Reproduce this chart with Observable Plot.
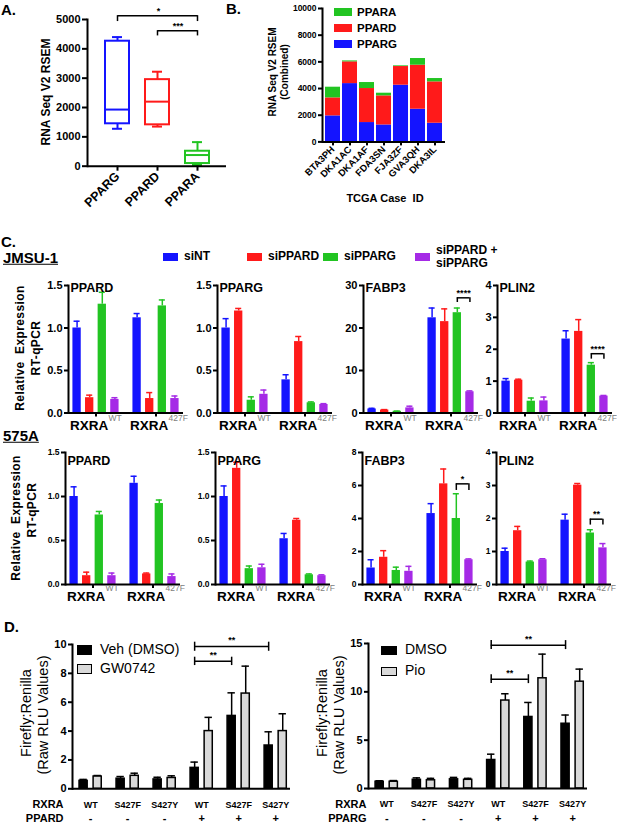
<!DOCTYPE html>
<html>
<head>
<meta charset="utf-8">
<script src="https://cdn.jsdelivr.net/npm/d3@7"></script>
<script src="https://cdn.jsdelivr.net/npm/@observablehq/plot@0.6"></script>
<style>
html,body{margin:0;padding:0;background:#fff;}
#root{position:relative;width:617px;height:825px;overflow:hidden;font-family:"Liberation Sans",Arial,sans-serif;color:#000;}
.t{position:absolute;white-space:pre;line-height:1.1;transform-origin:0 0;}
.sq{position:absolute;box-sizing:border-box;}
#root svg{position:absolute;overflow:visible;}
</style>
</head>
<body>
<div id="root"></div>
<script>
// ================= DATA =================
// Panel A (box summaries)
const genesA = ["PPARG", "PPARD", "PPARA"];
const boxMin = [1275, 1350, 40];
const boxQ1  = [1445, 1410, 90];
const boxMed = [1930, 2200, 380];
const boxQ3  = [4260, 2950, 510];
const boxMax = [4400, 3220, 820];
const sigA = [
  {a: "PPARG", b: "PPARA", y: 5130, drop: 4930, label: "*"},
  {a: "PPARD", b: "PPARA", y: 4620, drop: 4440, label: "***"}
];
// Panel B (stacked)
const cases  = ["BTA3PH", "DKA1AC", "DKA1AF", "FDA3SN", "FJA3ZF", "GVA3QH", "DKA3IL"];
const bPPARG = [1950, 4370, 1450, 1270, 4250, 2450, 1400];
const bPPARD = [1350, 1630, 2550, 2180, 1400, 3300, 3100];
const bPPARA = [800, 70, 450, 200, 50, 500, 250];
const bGenes = ["PPARG", "PPARD", "PPARA"];
const geneColors = ["#1414ff", "#ff1a1a", "#22c422"];
// Panel C
const siSeries = ["siNT", "siPPARD", "siPPARG", "siPPARD +\nsiPPARG"];
const siColors = ["#1414ff", "#ff1a1a", "#22c422", "#a52ae6"];
const rxraGroups = ["WT", "427F"];
const jmsuPPARD = [1.00, 0.18, 1.28, 0.16, 1.12, 0.17, 1.26, 0.17];
const jmsuPPARDerr = [0.08, 0.03, 0.14, 0.02, 0.05, 0.07, 0.07, 0.03];
const jmsuPPARG = [1.00, 1.20, 0.15, 0.22, 0.39, 0.84, 0.12, 0.10];
const jmsuPPARGerr = [0.11, 0.03, 0.04, 0.05, 0.06, 0.06, 0.01, 0.01];
const jmsuFABP3 = [0.95, 0.7, 0.4, 1.2, 22.4, 21.5, 23.6, 5.0];
const jmsuFABP3err = [0.15, 0.1, 0.05, 0.4, 2.3, 3.0, 1.1, 0.2];
const jmsuPLIN2 = [1.0, 1.03, 0.37, 0.38, 2.32, 2.56, 1.5, 0.53];
const jmsuPLIN2err = [0.08, 0.03, 0.1, 0.12, 0.26, 0.37, 0.08, 0.02];
const a575PPARD = [1.00, 0.10, 0.79, 0.10, 1.15, 0.12, 0.92, 0.09];
const a575PPARDerr = [0.11, 0.04, 0.04, 0.03, 0.08, 0.01, 0.04, 0.03];
const a575PPARG = [1.00, 1.32, 0.18, 0.19, 0.52, 0.73, 0.11, 0.10];
const a575PPARGerr = [0.12, 0.07, 0.03, 0.04, 0.06, 0.02, 0.01, 0.01];
const a575FABP3 = [1.0, 1.65, 0.85, 0.8, 4.3, 6.1, 4.0, 1.5];
const a575FABP3err = [0.5, 0.4, 0.2, 0.3, 0.6, 0.9, 1.5, 0.05];
const a575PLIN2 = [1.0, 1.63, 0.68, 0.75, 1.95, 3.01, 1.56, 1.11];
const a575PLIN2err = [0.1, 0.13, 0.03, 0.03, 0.18, 0.05, 0.1, 0.13];
const sigC = {
  jmsuFABP3: {g: "427F", a: 2, b: 3, y: 27.1, drop: 26.0, label: "****"},
  jmsuPLIN2: {g: "427F", a: 2, b: 3, y: 1.86, drop: 1.69, label: "****"},
  a575FABP3: {g: "427F", a: 2, b: 3, y: 6.1, drop: 5.7, label: "*"},
  a575PLIN2: {g: "427F", a: 2, b: 3, y: 1.98, drop: 1.80, label: "**"}
};
// Panel D
const dRxra = ["WT", "S427F", "S427Y", "WT", "S427F", "S427Y"];
const dPpar = ["-", "-", "-", "+", "+", "+"];
const dVeh = [0.55, 0.70, 0.65, 1.45, 5.05, 3.0];
const dVehErr = [0.10, 0.15, 0.15, 0.40, 1.60, 0.95];
const dGW = [0.85, 0.90, 0.75, 4.0, 6.6, 4.0];
const dGWErr = [0.07, 0.18, 0.15, 0.95, 1.9, 1.2];
const dDMSO = [0.70, 0.90, 0.95, 2.95, 7.4, 6.7];
const dDMSOErr = [0.10, 0.20, 0.20, 0.60, 1.5, 0.9];
const dPio = [0.70, 0.85, 0.90, 9.1, 11.4, 11.05];
const dPioErr = [0.12, 0.20, 0.15, 0.70, 2.5, 1.3];
const sigDL = [{a: 3, b: 5, y: 9.86, lo: 9.53, hi: 10.16, label: "**"}, {a: 3, b: 4, y: 8.84, lo: 8.54, hi: 9.12, label: "**"}];
const sigDR = [{a: 3, b: 5, y: 14.83, lo: 14.37, hi: 15.3, label: "**"}, {a: 3, b: 4, y: 11.31, lo: 10.85, hi: 11.77, label: "**"}];

// ================= HELPERS =================
const FONT = '"Liberation Sans", Arial, sans-serif';
const root = document.getElementById("root");
function addPlot(frame, m, opts) {
  const svg = Plot.plot({
    width: frame.x1 - frame.x0 + m.l + m.r,
    height: frame.y1 - frame.y0 + m.t + m.b,
    marginLeft: m.l, marginRight: m.r, marginTop: m.t, marginBottom: m.b,
    color: {type: "identity"},
    style: {fontFamily: FONT, fontSize: "11px", fontWeight: "bold", overflow: "visible", background: "none", color: "#000"},
    ...opts
  });
  svg.style.left = (frame.x0 - m.l) + "px";
  svg.style.top = (frame.y0 - m.t) + "px";
  root.appendChild(svg);
  return svg;
}
function T(s, x, y, o = {}) {
  const d = document.createElement("div");
  d.className = "t"; d.textContent = s;
  d.style.fontSize = (o.size ?? 12) + "px";
  d.style.fontWeight = o.weight ?? "bold";
  if (o.underline) d.style.textDecoration = "underline";
  if (o.color) d.style.color = o.color;
  if (o.align) d.style.textAlign = o.align;
  if (o.spacing) d.style.letterSpacing = o.spacing + "px";
  d.style.left = x + "px"; d.style.top = y + "px";
  const ax = o.anchor === "middle" ? "-50%" : o.anchor === "end" ? "-100%" : "0";
  d.style.transform = `rotate(${o.rotate ?? 0}deg) translate(${ax}, -50%)`;
  root.appendChild(d);
}
function SQ(x, y, w, h, fill, border) {
  const d = document.createElement("div");
  d.className = "sq";
  Object.assign(d.style, {left: x + "px", top: y + "px", width: w + "px", height: h + "px", background: fill});
  if (border) d.style.border = border;
  root.appendChild(d);
}

// ================= PANEL A =================
{
  const data = genesA.map((g, i) => ({g, min: boxMin[i], q1: boxQ1[i], med: boxMed[i], q3: boxQ3[i], max: boxMax[i], c: geneColors[i]}));
  const W = 139, pad = 0.4, step = W / (genesA.length + pad);
  const sigMarks = [];
  sigA.forEach(s => {
    const off = (genesA.indexOf(s.b) - genesA.indexOf(s.a)) / 2 * step;
    sigMarks.push(
      Plot.link([s], {x1: "a", x2: "b", y1: "y", y2: "y", strokeWidth: 1.5}),
      Plot.ruleX([s], {x: "a", y1: "drop", y2: "y", strokeWidth: 1.5}),
      Plot.ruleX([s], {x: "b", y1: "drop", y2: "y", strokeWidth: 1.5}),
      Plot.text([s], {x: "a", y: "y", text: "label", dx: off, dy: -2, lineAnchor: "bottom", fontSize: 9})
    );
  });
  addPlot({x0: 87, x1: 87 + W, y0: 19, y1: 165.7}, {l: 45, r: 5, t: 25, b: 50}, {
    x: {domain: genesA, padding: pad},
    y: {domain: [0, 5000]},
    marks: [
      Plot.ruleX(data, {x: "g", y1: "q3", y2: "max", stroke: "c", strokeWidth: 2}),
      Plot.ruleX(data, {x: "g", y1: "min", y2: "q1", stroke: "c", strokeWidth: 2}),
      Plot.tickY(data, {x: "g", y: "max", stroke: "c", strokeWidth: 2, insetLeft: 7, insetRight: 7}),
      Plot.tickY(data, {x: "g", y: "min", stroke: "c", strokeWidth: 2, insetLeft: 7, insetRight: 7}),
      Plot.barY(data, {x: "g", y1: "q1", y2: "q3", fill: "white", stroke: "c", strokeWidth: 2}),
      Plot.tickY(data, {x: "g", y: "med", stroke: "c", strokeWidth: 2}),
      Plot.ruleY([0], {strokeWidth: 2}),
      Plot.frame({anchor: "left", strokeWidth: 2}),
      Plot.axisY({ticks: 5, tickFormat: "d", tickSize: 5, tickPadding: 2, strokeWidth: 2, fontSize: 11, label: null}),
      Plot.axisX({tickSize: 5, tickPadding: 3, strokeWidth: 2, tickRotate: -45, fontSize: 12.5, label: null}),
      ...sigMarks
    ]
  });
  T("A.", 1, 10, {size: 15});
  T("RNA Seq V2 RSEM", 47, 92, {size: 12, rotate: -90, anchor: "middle"});
}

// ================= PANEL B =================
{
  const rows = [];
  cases.forEach((c, i) => {
    [bPPARG[i], bPPARD[i], bPPARA[i]].forEach((v, k) => rows.push({c, gene: bGenes[k], v, col: geneColors[k]}));
  });
  addPlot({x0: 322, x1: 445, y0: 8.3, y1: 141.7}, {l: 40, r: 5, t: 10, b: 50}, {
    x: {domain: cases, padding: 0.12},
    y: {domain: [0, 10000]},
    marks: [
      Plot.barY(rows, {x: "c", y: "v", fill: "col"}),
      Plot.ruleY([0], {strokeWidth: 2}),
      Plot.frame({anchor: "left", strokeWidth: 2}),
      Plot.axisY({ticks: 5, tickFormat: "d", tickSize: 4, tickPadding: 2, strokeWidth: 2, fontSize: 8.5, label: null}),
      Plot.axisX({tickSize: 4, tickPadding: 2, strokeWidth: 2, tickRotate: -45, fontSize: 9.5, label: null})
    ]
  });
  T("B.", 226, 9, {size: 15});
  T("RNA Seq V2 RSEM", 272, 72, {size: 10, rotate: -90, anchor: "middle"});
  T("(Combined)", 284, 72, {size: 10, rotate: -90, anchor: "middle"});
  T("TCGA Case  ID", 385, 198, {size: 11, anchor: "middle"});
  const legY = [40, 24, 8];
  bGenes.forEach((g, k) => {
    SQ(334, legY[k], 18, 8, geneColors[k]);
    T(g, 357, legY[k] + 4, {size: 11.5});
  });
}

// ================= PANEL C =================
const GROUP_STEP = 4.76;
function cPanel(o) {
  const rows = [];
  rxraGroups.forEach((g, gi) => siSeries.forEach((s, si) => {
    const k = gi * siSeries.length + si;
    rows.push({x: gi * GROUP_STEP + si, v: o.vals[k], e: o.errs[k], c: siColors[si]});
  }));
  const groups = rxraGroups.map((g, gi) => ({g, cx: gi * GROUP_STEP + 1.5}));
  const marks = [
    Plot.ruleX(rows, {x: "x", y1: "v", y2: d => d.v + d.e, stroke: "c", strokeWidth: 1.5}),
    Plot.ruleY(rows, {y: d => d.v + d.e, x1: d => d.x - 0.24, x2: d => d.x + 0.24, stroke: "c", strokeWidth: 1.5}),
    Plot.rect(rows, {x1: d => d.x - 0.33, x2: d => d.x + 0.33, y1: 0, y2: "v", fill: "c"}),
    Plot.ruleY([0], {strokeWidth: 2}),
    Plot.frame({anchor: "left", strokeWidth: 2}),
    Plot.axisY({ticks: o.ticks, tickFormat: o.fmt, tickSize: 4, tickPadding: 2, strokeWidth: 2, fontSize: o.fs, label: null}),
    Plot.axisX({ticks: groups.map(d => d.cx), tickFormat: () => "", tickSize: 4, strokeWidth: 2, label: null}),
    Plot.text(groups, {x: "cx", frameAnchor: "bottom", lineAnchor: "middle", text: () => "RXRA", textAnchor: "start", dx: -26, dy: o.labDy, fontSize: 13.5, fontWeight: "bold"}),
    Plot.text(groups, {x: "cx", frameAnchor: "bottom", lineAnchor: "middle", text: "g", textAnchor: "start", dx: 12.5, dy: o.supDy, fontSize: 8.5, fontWeight: "normal", fill: "#808080"}),
    Plot.text([o.title], {frameAnchor: "top-left", lineAnchor: "middle", textAnchor: "start", text: d => d, dx: 2, dy: o.titleDy, fontSize: 12.5, fontWeight: "bold"})
  ];
  if (o.sig) {
    const gi = rxraGroups.indexOf(o.sig.g);
    const xa = gi * GROUP_STEP + o.sig.a, xb = gi * GROUP_STEP + o.sig.b;
    marks.push(
      Plot.ruleY([o.sig], {y: "y", x1: () => xa, x2: () => xb, strokeWidth: 1.5}),
      Plot.ruleX([o.sig], {x: () => xa, y1: "drop", y2: "y", strokeWidth: 1.5}),
      Plot.ruleX([o.sig], {x: () => xb, y1: "drop", y2: "y", strokeWidth: 1.5}),
      Plot.text([o.sig], {x: () => (xa + xb) / 2, y: "y", text: "label", dy: -2, lineAnchor: "bottom", fontSize: 9, fontWeight: "bold"})
    );
  }
  addPlot({x0: o.S, x1: o.S + 115, y0: o.yT, y1: o.yB}, {l: 30, r: 30, t: 12, b: 25}, {
    x: {domain: [-0.68, GROUP_STEP + 3 + 0.68]},
    y: {domain: o.domain},
    marks
  });
}
const topRow = {yT: 285, yB: 412.5, fs: 11, labDy: 12.5, supDy: 5.5, titleDy: 2};
const botRow = {yT: 452, yB: 584, fs: 8.5, labDy: 12, supDy: 4, titleDy: 8};
cPanel({...topRow, S: 68, domain: [0, 1.5], ticks: [0, 0.5, 1, 1.5], fmt: ".1f", vals: jmsuPPARD, errs: jmsuPPARDerr, title: "PPARD"});
cPanel({...topRow, S: 217, domain: [0, 1.5], ticks: [0, 0.5, 1, 1.5], fmt: ".1f", vals: jmsuPPARG, errs: jmsuPPARGerr, title: "PPARG"});
cPanel({...topRow, S: 363, domain: [0, 30], ticks: [0, 10, 20, 30], fmt: "d", vals: jmsuFABP3, errs: jmsuFABP3err, title: "FABP3", sig: sigC.jmsuFABP3});
cPanel({...topRow, S: 497, domain: [0, 4], ticks: [0, 1, 2, 3, 4], fmt: "d", vals: jmsuPLIN2, errs: jmsuPLIN2err, title: "PLIN2", sig: sigC.jmsuPLIN2});
cPanel({...botRow, S: 65, domain: [0, 1.5], ticks: [0, 0.5, 1, 1.5], fmt: ".1f", vals: a575PPARD, errs: a575PPARDerr, title: "PPARD"});
cPanel({...botRow, S: 215, domain: [0, 1.5], ticks: [0, 0.5, 1, 1.5], fmt: ".1f", vals: a575PPARG, errs: a575PPARGerr, title: "PPARG"});
cPanel({...botRow, S: 362, domain: [0, 8], ticks: [0, 2, 4, 6, 8], fmt: "d", vals: a575FABP3, errs: a575FABP3err, title: "FABP3", sig: sigC.a575FABP3});
cPanel({...botRow, S: 496, domain: [0, 4], ticks: [0, 1, 2, 3, 4], fmt: "d", vals: a575PLIN2, errs: a575PLIN2err, title: "PLIN2", sig: sigC.a575PLIN2});
T("C.", 1, 242, {size: 15});
T("JMSU-1", 3, 258, {size: 15, underline: true});
T("575A", 3, 436, {size: 15, underline: true});
T("Relative  Expression", 21, 348, {size: 12, rotate: -90, anchor: "middle", spacing: 0.4});
T("RT-qPCR", 37, 348, {size: 12, rotate: -90, anchor: "middle", spacing: 0.4});
T("Relative  Expression", 17, 518, {size: 12, rotate: -90, anchor: "middle", spacing: 0.4});
T("RT-qPCR", 33, 510, {size: 12, rotate: -90, anchor: "middle", spacing: 0.4});
{
  const lx = [163, 247, 323, 415];
  siSeries.forEach((s, i) => {
    SQ(lx[i], 253, 15, 8, siColors[i]);
    T(s, lx[i] + 21, 257, {size: 12});
  });
}

// ================= PANEL D =================
function dPanel(o) {
  const rows = [];
  dRxra.forEach((r, gi) => {
    rows.push({x: gi - 0.19, v: o.a[gi], e: o.ae[gi], f: "#000"});
    rows.push({x: gi + 0.19, v: o.b[gi], e: o.be[gi], f: "#d9d9d9"});
  });
  const groups = dRxra.map((r, gi) => ({x: gi, r, p: dPpar[gi]}));
  const marks = [
    Plot.ruleX(rows, {x: "x", y1: "v", y2: d => d.v + d.e, strokeWidth: 1.5}),
    Plot.ruleY(rows, {y: d => d.v + d.e, x1: d => d.x - 0.1, x2: d => d.x + 0.1, strokeWidth: 1.5}),
    Plot.rect(rows, {x1: d => d.x - 0.11, x2: d => d.x + 0.11, y1: 0, y2: "v", fill: "f", stroke: "#000", strokeWidth: 1.5}),
    Plot.ruleY([0], {strokeWidth: 2}),
    Plot.frame({anchor: "left", strokeWidth: 2}),
    Plot.axisY({ticks: o.ticks, tickFormat: "d", tickSize: 4, tickPadding: 2, strokeWidth: 2, fontSize: 11, label: null}),
    Plot.text(groups, {x: "x", frameAnchor: "bottom", lineAnchor: "middle", text: "r", dy: 16, fontSize: 9}),
    Plot.text(groups, {x: "x", frameAnchor: "bottom", lineAnchor: "middle", text: "p", dy: 30, fontSize: 11}),
    Plot.text(["RXRA"], {frameAnchor: "bottom-left", lineAnchor: "middle", textAnchor: "end", text: d => d, dx: o.rowDx, dy: 16, fontSize: 11}),
    Plot.text([o.pparName], {frameAnchor: "bottom-left", lineAnchor: "middle", textAnchor: "end", text: d => d, dx: o.rowDx, dy: 30, fontSize: 11}),
    Plot.ruleY(o.sig, {y: "y", x1: d => d.a - 0.19, x2: d => d.b - 0.19, strokeWidth: 1.5}),
    Plot.ruleX(o.sig, {x: d => d.a - 0.19, y1: "lo", y2: "hi", strokeWidth: 1.5}),
    Plot.ruleX(o.sig, {x: d => d.b - 0.19, y1: "lo", y2: "hi", strokeWidth: 1.5}),
    Plot.text(o.sig, {x: d => (d.a + d.b) / 2 - 0.19, y: "hi", text: "label", lineAnchor: "bottom", dy: 1, fontSize: 9})
  ];
  addPlot({x0: o.S, x1: o.S + o.L, y0: o.yT, y1: o.yB}, {l: 50, r: 10, t: 12, b: 40}, {
    x: {domain: [-0.49, 5.4], axis: null},
    y: {domain: o.domain},
    marks
  });
}
dPanel({S: 71.7, L: 218, yT: 644, yB: 788.3, domain: [0, 10], ticks: [0, 2, 4, 6, 8, 10], a: dVeh, ae: dVehErr, b: dGW, be: dGWErr, pparName: "PPARD", sig: sigDL, rowDx: -9});
dPanel({S: 368.3, L: 219, yT: 642.7, yB: 787.7, domain: [0, 15], ticks: [0, 5, 10, 15], a: dDMSO, ae: dDMSOErr, b: dPio, be: dPioErr, pparName: "PPARG", sig: sigDR, rowDx: -2});
T("D.", 4, 627, {size: 15});
T("Firefly:Renilla", 27, 713, {size: 14.5, weight: "normal", rotate: -90, anchor: "middle"});
T("(Raw RLU Values)", 44, 715, {size: 14.5, weight: "normal", rotate: -90, anchor: "middle"});
T("Firefly:Renilla", 323, 713, {size: 14.5, weight: "normal", rotate: -90, anchor: "middle"});
T("(Raw RLU Values)", 340, 715, {size: 14.5, weight: "normal", rotate: -90, anchor: "middle"});
SQ(77, 645, 15, 10, "#000");
SQ(77, 664, 15, 10, "#d9d9d9", "1.5px solid #000");
T("Veh (DMSO)", 100, 650, {size: 14, weight: "normal"});
T("GW0742", 100, 669, {size: 14, weight: "normal"});
SQ(381, 646, 16, 9, "#000");
SQ(381, 667, 16, 9, "#d9d9d9", "1.5px solid #000");
T("DMSO", 405, 650, {size: 14, weight: "normal"});
T("Pio", 405, 671, {size: 14, weight: "normal"});
</script>
</body>
</html>
